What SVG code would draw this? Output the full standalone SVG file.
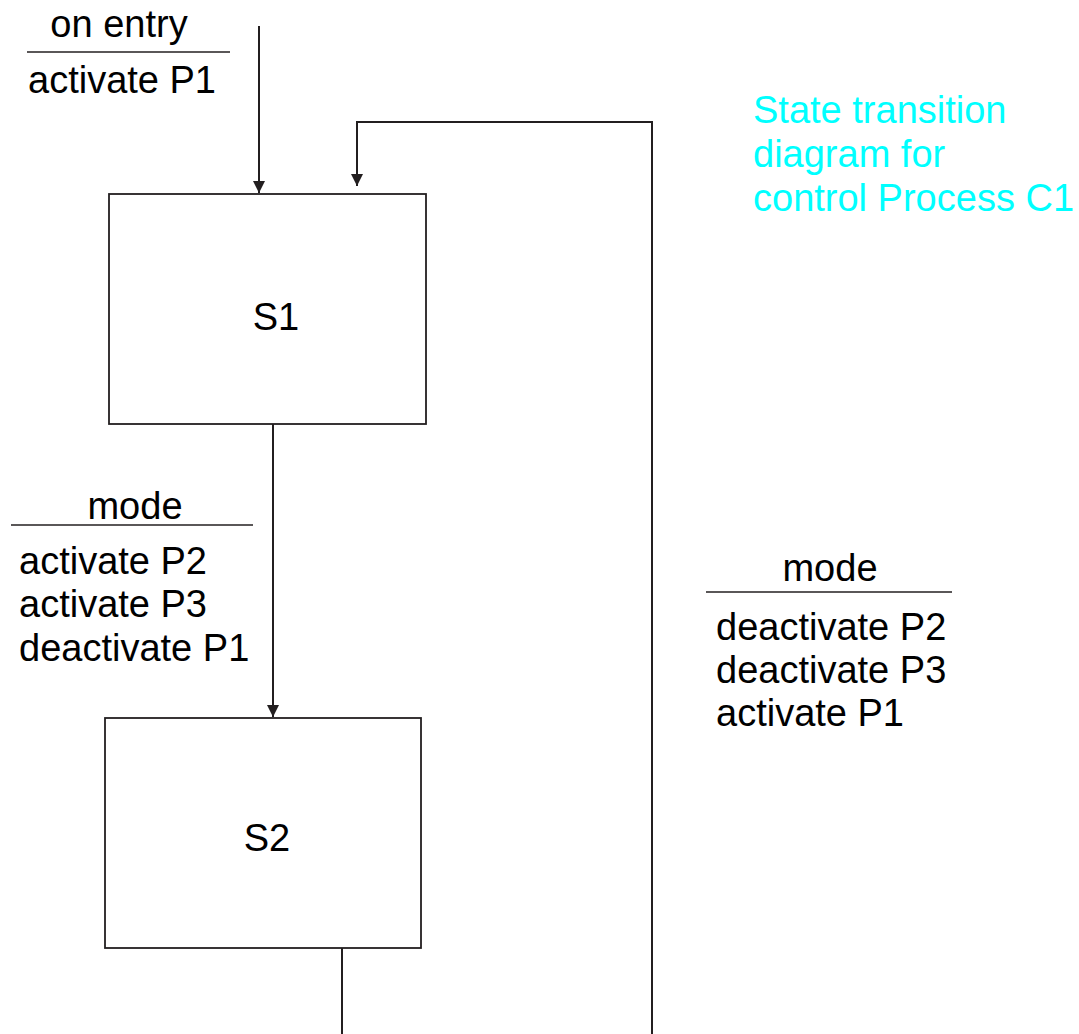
<svg xmlns="http://www.w3.org/2000/svg" width="1079" height="1034" viewBox="0 0 1079 1034">
  <style>
    .state { fill: #ffffff; stroke: #231f20; stroke-width: 1.8; }
    .wire { fill: none; stroke: #231f20; stroke-width: 2; }
    .bar { stroke: #231f20; stroke-width: 1.6; }
    .lbl { font-family: "Liberation Sans", Arial, sans-serif; font-size: 38px; fill: #000000; }
    .mid { text-anchor: middle; }
    .note { font-family: "Liberation Sans", Arial, sans-serif; font-size: 38px; fill: #00ffff; }
  </style>
  <defs>
    <marker id="arrow" viewBox="0 0 12 12" refX="12" refY="6" markerWidth="12" markerHeight="12" markerUnits="userSpaceOnUse" orient="auto">
      <path d="M0,0 L12,6 L0,12 Z" fill="#231f20"/>
    </marker>
  </defs>

  <rect width="1079" height="1034" fill="#ffffff"/>

  <!-- connectors -->
  <g id="connectors">
    <path class="wire" d="M259,26 V193" marker-end="url(#arrow)"/>
    <path class="wire" d="M273,424 V717" marker-end="url(#arrow)"/>
    <path class="wire" d="M342,948 V1034"/>
    <path class="wire" d="M652,1034 V122 H357 V186" marker-end="url(#arrow)"/>
  </g>

  <!-- states -->
  <g id="S1">
    <rect class="state" x="109" y="194" width="317" height="230"/>
    <text class="lbl mid" x="276" y="330">S1</text>
  </g>
  <g id="S2">
    <rect class="state" x="105" y="718" width="316" height="230"/>
    <text class="lbl mid" x="267" y="851">S2</text>
  </g>

  <!-- transition labels -->
  <g id="label-entry">
    <text class="lbl mid" x="119" y="37">on entry</text>
    <line class="bar" x1="27" y1="52" x2="230" y2="52"/>
    <text class="lbl" x="28" y="93">activate P1</text>
  </g>
  <g id="label-s1-s2">
    <text class="lbl mid" x="135" y="519">mode</text>
    <line class="bar" x1="11" y1="525" x2="253" y2="525"/>
    <text class="lbl" x="19" y="574">activate P2</text>
    <text class="lbl" x="19" y="617">activate P3</text>
    <text class="lbl" x="19" y="661">deactivate P1</text>
  </g>
  <g id="label-s2-s1">
    <text class="lbl mid" x="830" y="581">mode</text>
    <line class="bar" x1="706" y1="592" x2="952" y2="592"/>
    <text class="lbl" x="716" y="640">deactivate P2</text>
    <text class="lbl" x="716" y="683">deactivate P3</text>
    <text class="lbl" x="716" y="726">activate P1</text>
  </g>

  <!-- caption -->
  <g id="caption">
    <text class="note" x="753" y="123">State transition</text>
    <text class="note" x="753" y="167">diagram for</text>
    <text class="note" x="753" y="211">control Process C1</text>
  </g>
</svg>
